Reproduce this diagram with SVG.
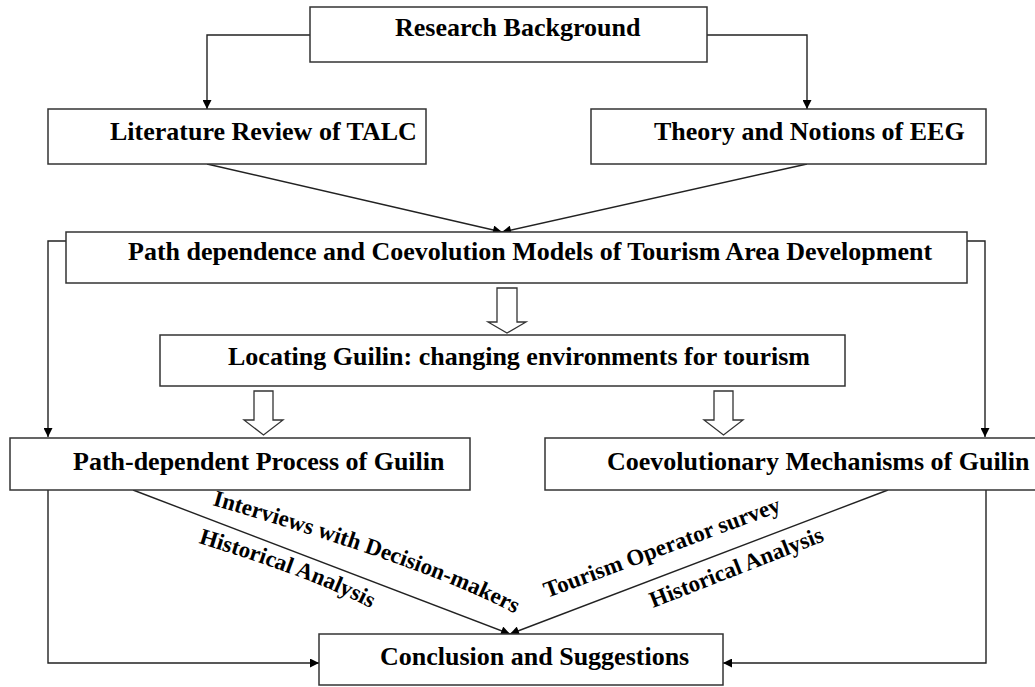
<svg xmlns="http://www.w3.org/2000/svg" width="1035" height="687" viewBox="0 0 1035 687">
<defs>
<style>
.box{fill:#fff;stroke:#333;stroke-width:1.5}
.t{font-family:"Liberation Serif","Times New Roman",serif;font-weight:bold;font-size:26px;fill:#000}
.lbl{font-family:"Liberation Serif","Times New Roman",serif;font-weight:bold;font-size:23px;fill:#000}
.c{fill:none;stroke:#222;stroke-width:1.4}
.hollow{fill:#fff;stroke:#333;stroke-width:1.3}
</style>
<marker id="ah" viewBox="0 0 10 10" refX="10" refY="5" markerWidth="10" markerHeight="9" markerUnits="userSpaceOnUse" orient="auto">
<path d="M0,0 L10,5 L0,10 Z" fill="#000"/>
</marker>
<path id="p1" d="M212,505 Q434,569 517,615"/>
<path id="p2" d="M198,543 Q317,579 376,611"/>
<path id="p3" d="M547,598 L790,508"/>
<path id="p4" d="M653,608 L832,538"/>
</defs>
<rect width="1035" height="687" fill="#fff"/>
<g id="connectors">
<polyline class="c" points="310,35 207,35 207,109" marker-end="url(#ah)"/>
<polyline class="c" points="707,35 807,35 807,109" marker-end="url(#ah)"/>
<line class="c" x1="207" y1="164" x2="502" y2="232" marker-end="url(#ah)"/>
<line class="c" x1="807" y1="164" x2="502" y2="232" marker-end="url(#ah)"/>
<polyline class="c" points="66,241 48,241 48,437" marker-end="url(#ah)"/>
<polyline class="c" points="967,241 985,241 985,437" marker-end="url(#ah)"/>
<polygon class="hollow" points="497,288 517,288 517,322 526,322 507,333 488,322 497,322"/>
<polygon class="hollow" points="254,391 273,391 273,420 283,420 263.5,435 244,420 254,420"/>
<polygon class="hollow" points="714,391 733,391 733,420 743,420 723.5,435 704,420 714,420"/>
<line class="c" x1="133" y1="490" x2="510" y2="634" marker-end="url(#ah)"/>
<line class="c" x1="888" y1="490" x2="510" y2="634" marker-end="url(#ah)"/>
<polyline class="c" points="48,490 48,663 319,663" marker-end="url(#ah)"/>
<polyline class="c" points="986,490 986,663 723,663" marker-end="url(#ah)"/>
<text class="lbl"><textPath href="#p1">Interviews with Decision-makers</textPath></text>
<text class="lbl"><textPath href="#p2">Historical Analysis</textPath></text>
<text class="lbl"><textPath href="#p3">Tourism Operator survey</textPath></text>
<text class="lbl"><textPath href="#p4">Historical Analysis</textPath></text>
</g>
<g id="n-background">
<rect class="box" x="310" y="7" width="397" height="55"/>
<text class="t" x="395" y="36">Research Background</text>
</g>
<g id="n-literature">
<rect class="box" x="48" y="109" width="378" height="55"/>
<text class="t" x="110" y="140">Literature Review of TALC</text>
</g>
<g id="n-theory">
<rect class="box" x="591" y="109" width="395" height="55"/>
<text class="t" x="654" y="140">Theory and Notions of EEG</text>
</g>
<g id="n-models">
<rect class="box" x="66" y="232" width="901" height="51"/>
<text class="t" x="128" y="260">Path dependence and Coevolution Models of Tourism Area Development</text>
</g>
<g id="n-locating">
<rect class="box" x="160" y="335" width="685" height="51"/>
<text class="t" x="228" y="365">Locating Guilin: changing environments for tourism</text>
</g>
<g id="n-path">
<rect class="box" x="10" y="438" width="460" height="52"/>
<text class="t" x="73" y="470">Path-dependent Process of Guilin</text>
</g>
<g id="n-coevo">
<rect class="box" x="545" y="438" width="500" height="52"/>
<text class="t" x="607" y="470">Coevolutionary Mechanisms of Guilin</text>
</g>
<g id="n-conclusion">
<rect class="box" x="319" y="634" width="404" height="51"/>
<text class="t" x="380" y="665">Conclusion and Suggestions</text>
</g>
</svg>
